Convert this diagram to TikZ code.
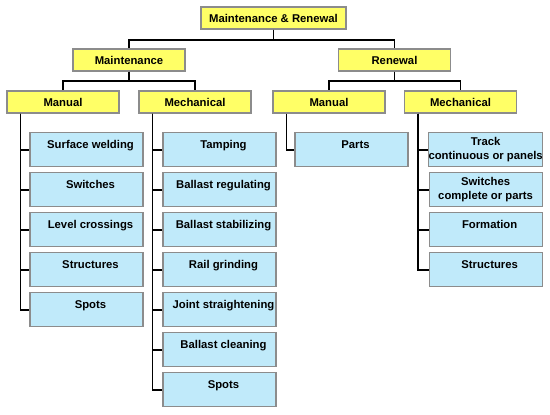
\documentclass[tikz,border=0pt]{standalone}
\usepackage{fontspec}
\setmainfont{Liberation Sans}
\usetikzlibrary{positioning}
\definecolor{yellowbox}{RGB}{255,255,102}
\definecolor{bluebox}{RGB}{192,234,250}

\begin{document}
\begin{tikzpicture}[
  x=1pt, y=1pt,
  font=\bfseries\fontsize{11.3}{13.5}\selectfont,
  node distance=4.9pt and 23pt,
  head/.style={
    draw=black!45,
    line width=1.1pt,
    fill=yellowbox,
    inner sep=2pt,
    minimum width=112pt,
    minimum height=22pt
  },
  leafbox/.style={
    draw=black!45,
    line width=1.1pt,
    fill=bluebox,
    align=center,
    inner xsep=0pt,
    inner ysep=2pt,
    minimum width=113pt,
    minimum height=34pt
  },
  leaf/.style={leafbox, text height=8pt, text depth=10pt,
    execute at begin node=\hspace*{8pt}},
  link/.style={line width=1.9pt, draw=black}
]
\useasboundingbox (0,0) rectangle (550,-415);

\node[head, minimum width=145pt] (root) at (273.5,-18) {Maintenance \& Renewal};
\node[head] (maint) at (129,-60) {Maintenance};
\node[head] (renew) at (394.5,-60) {Renewal};
\node[head] (mmanual) at (63,-102) {Manual};
\node[head] (mmech) at (195,-102) {Mechanical};
\node[head] (rmanual) at (329,-102) {Manual};
\node[head] (rmech) at (460.5,-102) {Mechanical};

\node[leaf, below right=18.5pt and 23pt of mmanual.south west] (weld) {Surface welding};
\node[leaf, below=of weld] (lswitch) {Switches};
\node[leaf, below=of lswitch] (crossing) {Level crossings};
\node[leaf, below=of crossing] (lstruct) {Structures};
\node[leaf, below=of lstruct] (lspots) {Spots};

\node[leaf, below right=18.5pt and 24pt of mmech.south west] (tamping) {Tamping};
\node[leaf, below=of tamping] (regulating) {Ballast regulating};
\node[leaf, below=of regulating] (stabilizing) {Ballast stabilizing};
\node[leaf, below=of stabilizing] (grinding) {Rail grinding};
\node[leaf, below=of grinding] (straightening) {Joint straightening};
\node[leaf, below=of straightening] (cleaning) {Ballast cleaning};
\node[leaf, below=of cleaning] (mspots) {Spots};

\node[leaf, below right=18.5pt and 22pt of rmanual.south west] (parts) {Parts};

\node[leafbox, below right=18.5pt and 24pt of rmech.south west] (track) {Track\\continuous or panels};
\node[leafbox, below=of track] (rswitch) {Switches\\complete or parts};
\node[leaf, below=of rswitch] (formation) {Formation};
\node[leaf, below=of formation] (rstruct) {Structures};

\coordinate (mmanualtrunk) at ([xshift=14pt]mmanual.south west);
\coordinate (mmechtrunk) at ([xshift=14pt]mmech.south west);
\coordinate (rmanualtrunk) at ([xshift=14pt]rmanual.south west);
\coordinate (rmechtrunk) at ([xshift=14pt]rmech.south west);

\draw[link] (root.south) -- ++(0,-10) -| (maint.north);
\draw[link] (root.south) -- ++(0,-10) -| (renew.north);
\draw[link] (maint.south) -- ++(0,-9.5) -| (mmanual.north);
\draw[link] (maint.south) -- ++(0,-9.5) -| (mmech.north);
\draw[link] (renew.south) -- ++(0,-9.5) -| (rmanual.north);
\draw[link] (renew.south) -- ++(0,-9.5) -| (rmech.north);

\foreach \n in {weld,lswitch,crossing,lstruct,lspots}
  \draw[link] (mmanualtrunk) |- (\n.west);
\foreach \n in {tamping,regulating,stabilizing,grinding,straightening,cleaning,mspots}
  \draw[link] (mmechtrunk) |- (\n.west);
\draw[link] (rmanualtrunk) |- (parts.west);
\foreach \n in {track,rswitch,formation,rstruct}
  \draw[link] (rmechtrunk) |- (\n.west);

\end{tikzpicture}
\end{document}
